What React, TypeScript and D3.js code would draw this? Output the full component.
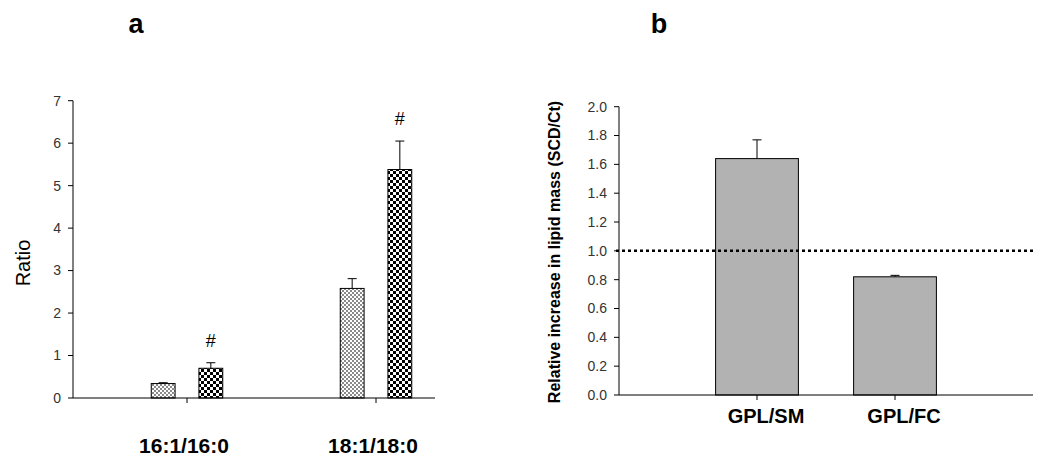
import React from "react";
import * as d3 from "d3";

// panel a: desaturation ratios
const categoriesA = ["16:1/16:0", "18:1/18:0"];
const seriesA = ["control", "scd"];
const controlRatio = [0.34, 2.58];
const controlErr = [0.02, 0.23];
const scdRatio = [0.7, 5.38];
const scdErr = [0.13, 0.67];
const significantA = [true, true];
const ticksA = [0, 1, 2, 3, 4, 5, 6, 7];

// panel b: relative lipid mass
const categoriesB = ["GPL/SM", "GPL/FC"];
const massB = [1.64, 0.82];
const massErrB = [0.13, 0.01];
const ticksB = [0, 0.2, 0.4, 0.6, 0.8, 1.0, 1.2, 1.4, 1.6, 1.8, 2.0];
const referenceLine = 1.0;

const FONT = "'Liberation Sans', Arial, sans-serif";

const A = { left: 73, right: 435, top: 100.7, bottom: 398 };
const B = { left: 619, right: 1033, top: 106.7, bottom: 395 };

const App = () => {
  const yA = d3.scaleLinear().domain([0, 7]).range([A.bottom, A.top]);
  const xA = d3
    .scalePoint<string>()
    .domain(categoriesA)
    .range([A.left + 114, A.left + 303]);
  const subA = d3
    .scaleBand<string>()
    .domain(seriesA)
    .range([-35.75, 35.75])
    .paddingInner(0.5);

  const yB = d3.scaleLinear().domain([0, 2]).range([B.bottom, B.top]);
  const xB = d3
    .scalePoint<string>()
    .domain(categoriesB)
    .range([B.left, B.right])
    .padding(1);
  const barWB = xB.step() * 0.6;

  const rowsA = categoriesA.map((c, i) => ({
    cat: c,
    values: [
      { key: "control", v: controlRatio[i], e: controlErr[i] },
      { key: "scd", v: scdRatio[i], e: scdErr[i] },
    ],
    sig: significantA[i],
  }));

  const cap = 4.5;

  return (
    <svg
      width={1050}
      height={476}
      style={{ position: "absolute", left: 0, top: 0, background: "#fff" }}
      fontFamily={FONT}
    >
      <defs>
        <pattern id="fine" width={4} height={4} patternUnits="userSpaceOnUse">
          <rect width={4} height={4} fill="#fff" />
          <rect width={2} height={2} fill="#8a8a8a" />
          <rect x={2} y={2} width={2} height={2} fill="#8a8a8a" />
        </pattern>
        <pattern id="checker" width={6} height={6} patternUnits="userSpaceOnUse">
          <rect width={6} height={6} fill="#fff" />
          <rect width={3} height={3} fill="#000" />
          <rect x={3} y={3} width={3} height={3} fill="#000" />
        </pattern>
      </defs>

      {/* panel titles */}
      <text x={136} y={33} textAnchor="middle" fontSize={27} fontWeight="bold">a</text>
      <text x={659} y={33} textAnchor="middle" fontSize={27} fontWeight="bold">b</text>

      {/* ---- panel a ---- */}
      {rowsA.map((row) => (
        <g key={row.cat}>
          {row.values.map((d) => {
            const x0 = (xA(row.cat) ?? 0) + (subA(d.key) ?? 0);
            const cx = x0 + subA.bandwidth() / 2;
            return (
              <g key={d.key}>
                <line x1={cx} x2={cx} y1={yA(d.v)} y2={yA(d.v + d.e)} stroke="#000" />
                <line x1={cx - cap} x2={cx + cap} y1={yA(d.v + d.e)} y2={yA(d.v + d.e)} stroke="#000" />
                <rect
                  x={x0}
                  y={yA(d.v)}
                  width={subA.bandwidth()}
                  height={yA(0) - yA(d.v)}
                  fill={d.key === "control" ? "url(#fine)" : "url(#checker)"}
                  stroke="#000"
                />
                {d.key === "scd" && row.sig && (
                  <text x={cx} y={yA(d.v + d.e) - 16} textAnchor="middle" fontSize={18}>#</text>
                )}
              </g>
            );
          })}
        </g>
      ))}
      <line x1={A.left} x2={A.left} y1={A.top} y2={A.bottom} stroke="#000" />
      <line x1={A.left} x2={A.right} y1={A.bottom} y2={A.bottom} stroke="#000" />
      {ticksA.map((t) => (
        <g key={t}>
          <line x1={A.left - 5} x2={A.left} y1={yA(t)} y2={yA(t)} stroke="#000" />
          <text x={A.left - 12} y={yA(t)} dy="0.35em" textAnchor="end" fontSize={14} fill="#333">{t}</text>
        </g>
      ))}
      {categoriesA.map((c) => (
        <g key={c}>
          <line x1={xA(c)} x2={xA(c)} y1={A.bottom} y2={A.bottom + 5} stroke="#000" />
          <text x={(xA(c) ?? 0) - 3} y={453} textAnchor="middle" fontSize={21} fontWeight="bold">{c}</text>
        </g>
      ))}
      <text transform="translate(30,263) rotate(-90)" textAnchor="middle" fontSize={20}>Ratio</text>

      {/* ---- panel b ---- */}
      {categoriesB.map((c, i) => {
        const cx = xB(c) ?? 0;
        const top = yB(massB[i] + massErrB[i]);
        return (
          <g key={c}>
            <line x1={cx} x2={cx} y1={yB(massB[i])} y2={top} stroke="#000" />
            <line x1={cx - cap} x2={cx + cap} y1={top} y2={top} stroke="#000" />
            <rect
              x={cx - barWB / 2}
              y={yB(massB[i])}
              width={barWB}
              height={yB(0) - yB(massB[i])}
              fill="#b2b2b2"
              stroke="#000"
            />
            <line x1={cx} x2={cx} y1={B.bottom} y2={B.bottom + 5} stroke="#000" />
            <text x={cx + 9} y={423} textAnchor="middle" fontSize={20} fontWeight="bold">{c}</text>
          </g>
        );
      })}
      <line
        x1={B.left - 3}
        x2={B.right}
        y1={yB(referenceLine)}
        y2={yB(referenceLine)}
        stroke="#000"
        strokeWidth={2.5}
        strokeDasharray="3,3"
      />
      <line x1={B.left} x2={B.left} y1={B.top} y2={B.bottom} stroke="#000" />
      <line x1={B.left} x2={B.right} y1={B.bottom} y2={B.bottom} stroke="#000" />
      {ticksB.map((t) => (
        <g key={t}>
          <line x1={B.left - 5} x2={B.left} y1={yB(t)} y2={yB(t)} stroke="#000" />
          <text x={B.left - 12} y={yB(t)} dy="0.35em" textAnchor="end" fontSize={14} fill="#333">
            {d3.format(".1f")(t)}
          </text>
        </g>
      ))}
      <text transform="translate(560,252) rotate(-90)" textAnchor="middle" fontSize={16} fontWeight="bold">
        Relative increase in lipid mass (SCD/Ct)
      </text>
    </svg>
  );
};

export default App;
